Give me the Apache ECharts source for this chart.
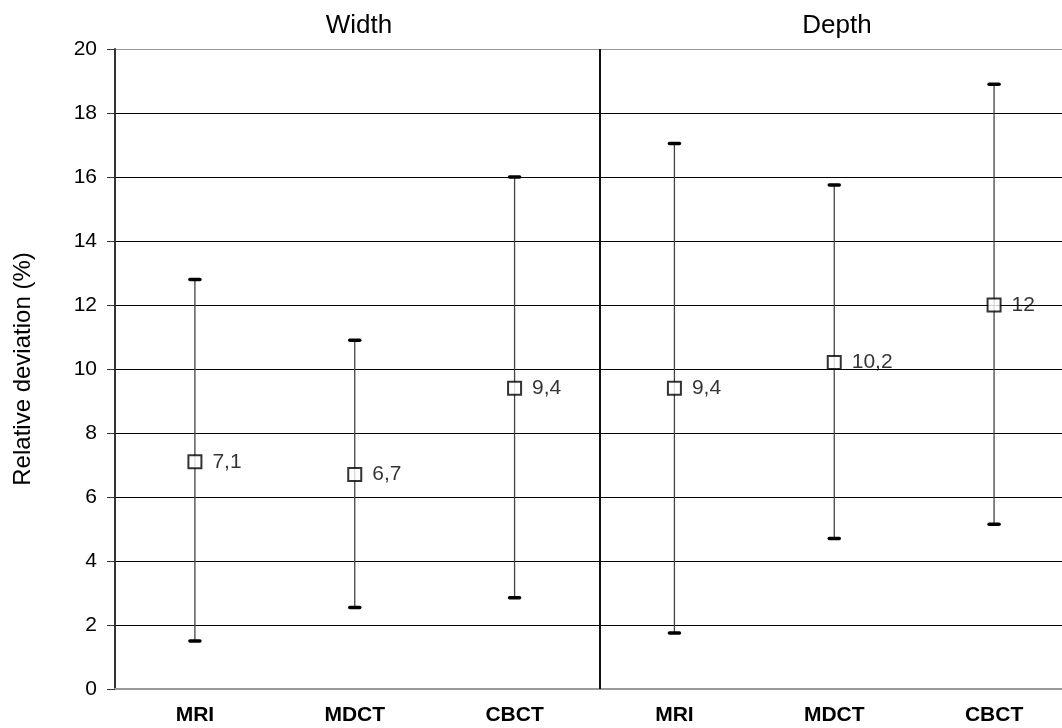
<!DOCTYPE html>
<html>
<head>
<meta charset="utf-8">
<script src="https://cdn.jsdelivr.net/npm/echarts@6/dist/echarts.min.js"></script>
<style>
  html, body { margin: 0; padding: 0; background: #fff; }
  #chart { width: 1062px; height: 728px; }
</style>
</head>
<body>
<div id="chart"></div>
<script>
// Data
const categories = ['MRI', 'MDCT', 'CBCT', 'MRI', 'MDCT', 'CBCT'];
const means = [7.1, 6.7, 9.4, 9.4, 10.2, 12];
const meanLabels = ['7,1', '6,7', '9,4', '9,4', '10,2', '12'];
const upper = [12.8, 10.9, 16.0, 17.05, 15.75, 18.9];
const lower = [1.5, 2.55, 2.85, 1.75, 4.7, 5.15];
const groupTitles = ['Width', 'Depth'];
// category indexes on each side of the Width | Depth split
const groupSplit = [2, 3];

const FONT = 'Liberation Sans, Arial, sans-serif';

const chart = echarts.init(document.getElementById('chart'));

const errorData = categories.map((c, i) => [i, lower[i], upper[i]]);

function renderErrorBar(params, api) {
    const x = api.value(0);
    const lo = api.coord([x, api.value(1)]);
    const hi = api.coord([x, api.value(2)]);
    const capW = 5;
    return {
        type: 'group',
        children: [
            {
                type: 'line',
                shape: { x1: hi[0], y1: hi[1], x2: lo[0], y2: lo[1] },
                style: { stroke: '#444', lineWidth: 1.3 }
            },
            {
                type: 'line',
                shape: { x1: hi[0] - capW, y1: hi[1], x2: hi[0] + capW, y2: hi[1] },
                style: { stroke: '#000', lineWidth: 3.5, lineCap: 'round' }
            },
            {
                type: 'line',
                shape: { x1: lo[0] - capW, y1: lo[1], x2: lo[0] + capW, y2: lo[1] },
                style: { stroke: '#000', lineWidth: 3.5, lineCap: 'round' }
            }
        ]
    };
}

// vertical divider between the two groups
function renderDivider(params, api) {
    const a = api.coord([api.value(0), 0]);
    const b = api.coord([api.value(1), 20]);
    const x = Math.round((a[0] + b[0]) / 2) + 5;
    return {
        type: 'line',
        shape: { x1: x, y1: b[1], x2: x, y2: a[1] },
        style: { stroke: '#111', lineWidth: 2 }
    };
}

const gridColors = ['#000', '#000', '#000', '#000', '#000', '#000', '#000', '#000', '#000', '#000', '#999'];

const option = {
    backgroundColor: '#fff',
    animation: false,
    textStyle: { fontFamily: FONT },
    grid: { left: 115, width: 959, top: 49, bottom: 39, outerBoundsMode: 'none' },
    graphic: [
        {
            type: 'text',
            x: 359, y: 13,
            style: { text: groupTitles[0], font: '26px "Liberation Sans", Arial', fill: '#000', align: 'center' }
        },
        {
            type: 'text',
            x: 837, y: 13,
            style: { text: groupTitles[1], font: '26px "Liberation Sans", Arial', fill: '#000', align: 'center' }
        }
    ],
    xAxis: {
        type: 'category',
        data: categories,
        boundaryGap: true,
        axisLine: { show: true, lineStyle: { color: '#999', width: 2 } },
        axisTick: { show: false },
        axisLabel: {
            color: '#000', fontSize: 21, fontWeight: 'bold', margin: 16,
            fontFamily: FONT
        },
        splitLine: { show: false }
    },
    yAxis: {
        type: 'value',
        min: 0,
        max: 20,
        interval: 2,
        name: 'Relative deviation (%)',
        nameLocation: 'middle',
        nameGap: 80,
        nameTextStyle: { color: '#000', fontSize: 24, fontFamily: FONT },
        axisLine: { show: true, lineStyle: { color: '#333', width: 2 } },
        axisTick: { show: true, length: 8, lineStyle: { color: '#333' } },
        axisLabel: { color: '#000', fontSize: 21, margin: 18, fontFamily: FONT },
        splitLine: { show: true, lineStyle: { color: gridColors, width: 1 } }
    },
    series: [
        {
            type: 'custom',
            renderItem: renderDivider,
            data: [groupSplit],
            silent: true,
            z: 2
        },
        {
            type: 'custom',
            renderItem: renderErrorBar,
            data: errorData,
            z: 3
        },
        {
            type: 'scatter',
            data: means,
            symbol: 'rect',
            symbolSize: 13,
            itemStyle: { color: '#fff', borderColor: '#000', borderWidth: 2 },
            label: {
                show: true,
                position: 'right',
                distance: 10,
                color: '#000',
                fontSize: 21,
                fontFamily: FONT,
                formatter: function (p) { return meanLabels[p.dataIndex]; }
            },
            z: 5
        }
    ]
};

chart.setOption(option);
</script>
</body>
</html>
